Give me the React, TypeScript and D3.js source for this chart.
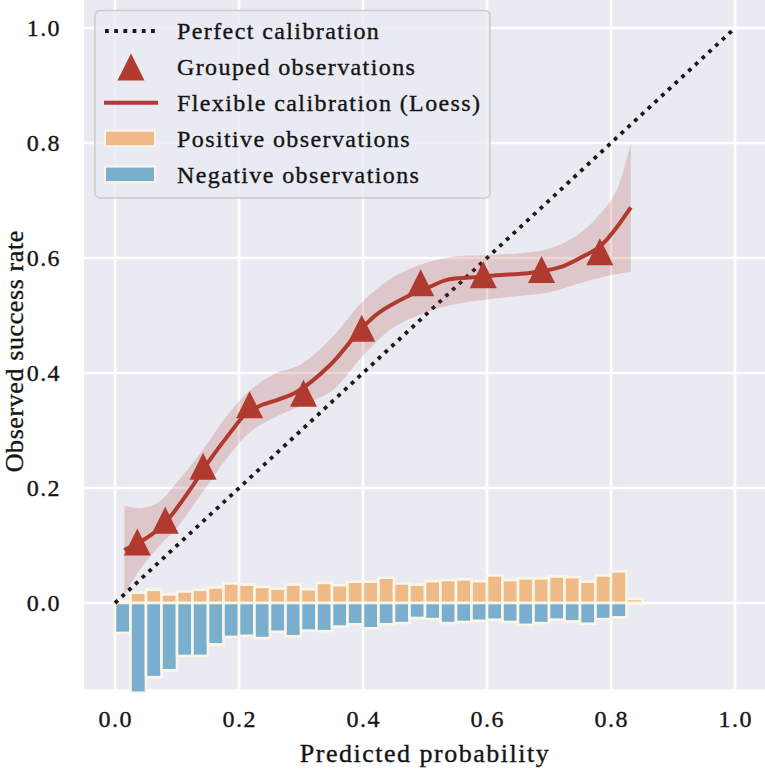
import React from "react";
import * as d3 from "d3";

// ---------- data ----------
const binWidth = 0.025;
const positiveCounts = [0.003, 0.018, 0.023, 0.015, 0.020, 0.023, 0.027, 0.034, 0.032, 0.028, 0.025, 0.032, 0.024, 0.035, 0.031, 0.037, 0.037, 0.044, 0.034, 0.032, 0.038, 0.040, 0.041, 0.038, 0.048, 0.040, 0.043, 0.043, 0.046, 0.045, 0.037, 0.048, 0.055, 0.007];
const negativeCounts = [0.052, 0.156, 0.129, 0.117, 0.092, 0.092, 0.072, 0.059, 0.057, 0.061, 0.050, 0.058, 0.048, 0.049, 0.041, 0.037, 0.044, 0.037, 0.035, 0.026, 0.028, 0.035, 0.033, 0.031, 0.029, 0.033, 0.038, 0.035, 0.029, 0.032, 0.036, 0.028, 0.025, 0.002];

const groupedX = [0.036, 0.081, 0.142, 0.217, 0.304, 0.398, 0.493, 0.594, 0.688, 0.782];
const groupedY = [0.106, 0.144, 0.238, 0.345, 0.365, 0.478, 0.557, 0.571, 0.580, 0.611];

const loessX = [0.015, 0.04, 0.065, 0.089, 0.121, 0.153, 0.185, 0.212, 0.234, 0.261, 0.293, 0.347, 0.398, 0.427, 0.473, 0.508, 0.535, 0.573, 0.615, 0.669, 0.718, 0.75, 0.782, 0.804, 0.832];
const loessY = [0.092, 0.106, 0.124, 0.150, 0.197, 0.249, 0.295, 0.330, 0.343, 0.353, 0.367, 0.414, 0.478, 0.506, 0.534, 0.550, 0.562, 0.566, 0.570, 0.574, 0.584, 0.600, 0.620, 0.646, 0.688];

const bandX = [0.015, 0.04, 0.07, 0.10, 0.14, 0.18, 0.22, 0.26, 0.30, 0.35, 0.40, 0.45, 0.50, 0.55, 0.60, 0.65, 0.70, 0.75, 0.79, 0.81, 0.832];
const bandUpper = [0.169, 0.165, 0.175, 0.21, 0.264, 0.325, 0.372, 0.40, 0.415, 0.462, 0.525, 0.568, 0.591, 0.603, 0.605, 0.608, 0.616, 0.643, 0.686, 0.72, 0.80];
const bandLower = [0.015, 0.058, 0.098, 0.131, 0.191, 0.251, 0.299, 0.324, 0.343, 0.369, 0.43, 0.48, 0.505, 0.52, 0.528, 0.534, 0.54, 0.556, 0.568, 0.572, 0.576];

const perfectX = [0, 1];
const perfectY = [0, 1];

const xTicks = [0, 0.2, 0.4, 0.6, 0.8, 1.0];
const yTicks = [0, 0.2, 0.4, 0.6, 0.8, 1.0];

const legendLabels = [
  "Perfect calibration",
  "Grouped observations",
  "Flexible calibration (Loess)",
  "Positive observations",
  "Negative observations",
];

// ---------- styles ----------
const W = 765;
const H = 770;
const BG = "#EAEAF2";
const RED = "#B03A2E";
const ORANGE = "#F0BA88";
const BLUE = "#7AAECE";
const EDGE = "#FBF6E6";
const TEXT = "#141414";
const FONT = "'Liberation Serif', 'Times New Roman', serif";
const TS = { stroke: "#141414", strokeWidth: 0.35 };

const plot = { left: 84, right: 766, top: -0.75, bottom: 689.25 };

export default function App() {
  const x = d3.scaleLinear().domain([-0.05, 1.05]).range([plot.left, plot.right]);
  const y = d3.scaleLinear().domain([-0.15, 1.05]).range([plot.bottom, plot.top]);
  const fmt = d3.format(".1f");

  const line = d3
    .line<number>()
    .x((_, i) => x(loessX[i]))
    .y((d) => y(d))
    .curve(d3.curveCatmullRom.alpha(0.5));

  const area = d3
    .area<number>()
    .x((_, i) => x(bandX[i]))
    .y0((_, i) => y(bandLower[i]))
    .y1((d) => y(d))
    .curve(d3.curveCatmullRom.alpha(0.5));

  const perfect = d3
    .line<number>()
    .x((_, i) => x(perfectX[i]))
    .y((d) => y(d));

  const tri = (cx: number, cy: number, r: number) => {
    const p = d3.path();
    p.moveTo(cx, cy - r);
    p.lineTo(cx + r, cy + r);
    p.lineTo(cx - r, cy + r);
    p.closePath();
    return p.toString();
  };

  const legendX = 95;
  const legendY = 10.5;
  const rowBase = (i: number) => 39 + 35.9 * i;

  return (
    <svg
      width={W}
      height={H}
      style={{ position: "absolute", left: 0, top: 0, background: "#ffffff" }}
      fontFamily={FONT}
    >
      <defs>
        <clipPath id="plotclip">
          <rect x={plot.left} y={plot.top} width={plot.right - plot.left} height={plot.bottom - plot.top + 3} />
        </clipPath>
      </defs>
      <rect x={plot.left} y={plot.top} width={plot.right - plot.left} height={plot.bottom - plot.top} fill={BG} />
      {/* grid */}
      {xTicks.map((t) => (
        <line key={"gx" + t} x1={x(t)} x2={x(t)} y1={plot.top} y2={plot.bottom} stroke="#ffffff" strokeWidth={2.5} />
      ))}
      {yTicks.map((t) => (
        <line key={"gy" + t} x1={plot.left} x2={plot.right} y1={y(t)} y2={y(t)} stroke="#ffffff" strokeWidth={2.5} />
      ))}
      <g clipPath="url(#plotclip)">
        {/* histogram bars */}
        {positiveCounts.map((v, i) => (
          <rect
            key={"p" + i}
            x={x(i * binWidth)}
            width={x((i + 1) * binWidth) - x(i * binWidth)}
            y={y(v)}
            height={y(0) - y(v)}
            fill={ORANGE}
            stroke={EDGE}
            strokeWidth={2.6}
          />
        ))}
        {negativeCounts.map((v, i) => (
          <rect
            key={"n" + i}
            x={x(i * binWidth)}
            width={x((i + 1) * binWidth) - x(i * binWidth)}
            y={y(0)}
            height={y(-v) - y(0)}
            fill={BLUE}
            stroke={EDGE}
            strokeWidth={2.6}
          />
        ))}
        {/* perfect calibration */}
        <path d={perfect(perfectY) || ""} fill="none" stroke="#1a1a1a" strokeWidth={3.8} strokeDasharray="3.8 5.4" />
        {/* confidence band */}
        <path d={area(bandUpper) || ""} fill={RED} fillOpacity={0.2} stroke="none" />
        {/* loess */}
        <path d={line(loessY) || ""} fill="none" stroke={RED} strokeWidth={4} strokeLinecap="butt" />
        {/* grouped observations */}
        {groupedX.map((gx, i) => (
          <path key={"t" + i} d={tri(x(gx), y(groupedY[i]), 13.5)} fill={RED} />
        ))}
      </g>

      {/* y tick labels */}
      {yTicks.map((t) => (
        <text key={"yl" + t} x={61} y={y(t) + 8} textAnchor="end" fontSize={24} fill={TEXT} letterSpacing={1.4} {...TS}>
          {fmt(t)}
        </text>
      ))}
      {/* x tick labels */}
      {xTicks.map((t) => (
        <text key={"xl" + t} x={x(t) + 0.7} y={727} textAnchor="middle" fontSize={24} fill={TEXT} letterSpacing={1.4} {...TS}>
          {fmt(t)}
        </text>
      ))}
      <text x={(plot.left + plot.right) / 2} y={762} textAnchor="middle" fontSize={26} fill={TEXT} letterSpacing={1.5} {...TS}>
        Predicted probability
      </text>
      <text
        transform={`translate(23, ${(plot.top + plot.bottom) / 2 + 7}) rotate(-90)`}
        textAnchor="middle"
        fontSize={26}
        fill={TEXT}
        letterSpacing={0.6}
        {...TS}
      >
        Observed success rate
      </text>

      {/* legend */}
      <g>
        <rect x={legendX} y={legendY} width={395} height={187.5} rx={5} fill={BG} fillOpacity={0.8} stroke="#cccccc" strokeWidth={1.5} />
        <line x1={105} x2={155} y1={rowBase(0) - 8} y2={rowBase(0) - 8} stroke="#1a1a1a" strokeWidth={3.8} strokeDasharray="3.8 5.4" />
        <path d={tri(131, rowBase(1) - 8, 13.5)} fill={RED} />
        <line x1={104} x2={158} y1={rowBase(2) - 8} y2={rowBase(2) - 8} stroke={RED} strokeWidth={4} />
        <rect x={105} y={rowBase(3) - 16} width={50} height={15.5} fill={ORANGE} stroke={EDGE} strokeWidth={2} />
        <rect x={105} y={rowBase(4) - 16} width={50} height={15.5} fill={BLUE} stroke={EDGE} strokeWidth={2} />
        {legendLabels.map((l, i) => (
          <text key={l} x={177} y={rowBase(i)} fontSize={24} fill={TEXT} letterSpacing={1.4} {...TS}>
            {l}
          </text>
        ))}
      </g>
    </svg>
  );
}
